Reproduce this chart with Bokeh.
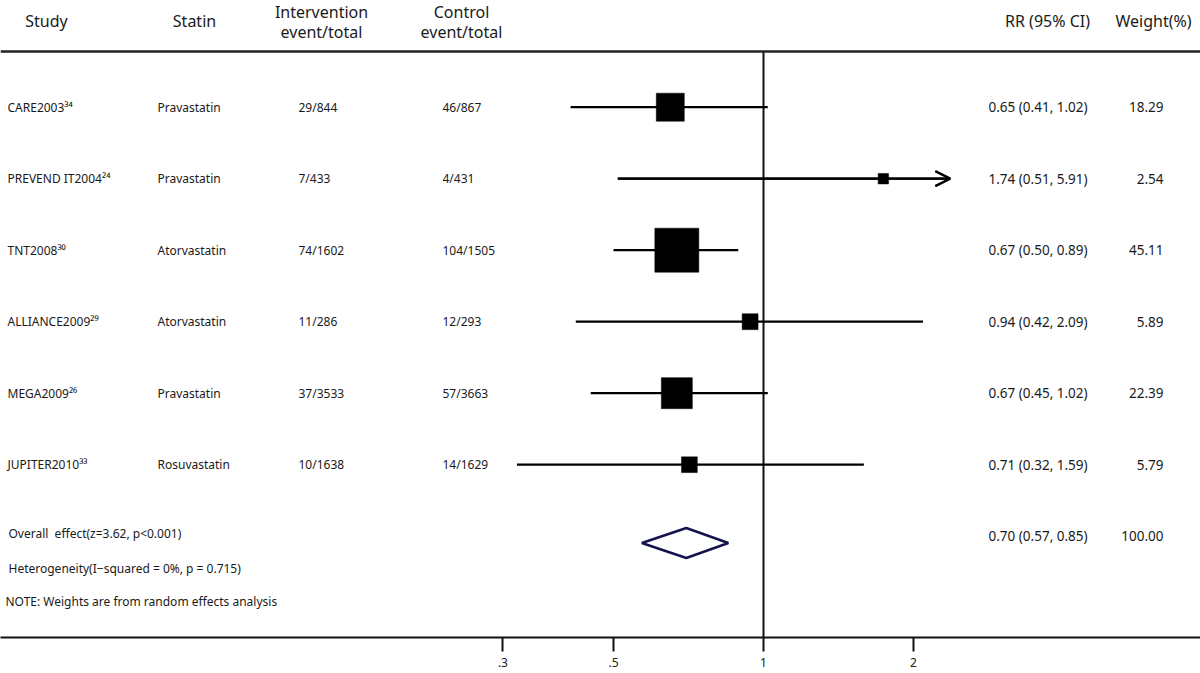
import math
from bokeh.plotting import figure
from bokeh.models import Range1d, FixedTicker, ColumnDataSource, Span, Arrow, OpenHead
from bokeh.core.properties import value
from bokeh.embed import file_html
from bokeh.resources import INLINE

# ---------------- data ----------------
studies = ["CARE2003", "PREVEND IT2004", "TNT2008", "ALLIANCE2009", "MEGA2009", "JUPITER2010"]
refs = ["34", "24", "30", "29", "26", "33"]
statins = ["Pravastatin", "Pravastatin", "Atorvastatin", "Atorvastatin", "Pravastatin", "Rosuvastatin"]
intervention = ["29/844", "7/433", "74/1602", "11/286", "37/3533", "10/1638"]
control = ["46/867", "4/431", "104/1505", "12/293", "57/3663", "14/1629"]
rr = [0.65, 1.74, 0.67, 0.94, 0.67, 0.71]
ci_low = [0.41, 0.51, 0.50, 0.42, 0.45, 0.32]
ci_high = [1.02, 5.91, 0.89, 2.09, 1.02, 1.59]
weights = [18.29, 2.54, 45.11, 5.89, 22.39, 5.79]
overall_rr, overall_low, overall_high = 0.70, 0.57, 0.85
overall_weight = 100.00
overall_text = "Overall\u00a0 effect(z=3.62, p<0.001)"
heterogeneity_text = "Heterogeneity(I\u2212squared = 0%, p = 0.715)"
note_text = "NOTE: Weights are from random effects analysis"
headers = ["Study", "Statin", "Intervention\nevent/total", "Control\nevent/total", "RR (95% CI)", "Weight(%)"]
tick_values = [0.3, 0.5, 1, 2]
tick_labels = [".3", ".5", "1", "2"]
x_clip = 2.37   # upper display limit of the plot scale

# ---------------- layout ----------------
W, H = 1200, 673
PAGE_OFF = 0
ONE_PX = 763.0        # page x of RR = 1
PX_PER_LN = 216.4
AXIS_Y = 637
HEADER_LINE_Y = 51
ROW0_Y = 106.7
ROW_STEP = 71.5
FONT = value("Noto Sans")

def px2x(px):
    return math.exp((px - ONE_PX) / PX_PER_LN)

n = len(studies)
row_y = [ROW0_Y + ROW_STEP * i for i in range(n)]
overall_y = ROW0_Y + ROW_STEP * n
diamond_y = overall_y + 6.8

p = figure(width=W, height=H, output_backend="svg", toolbar_location=None,
           x_axis_type="log",
           x_range=Range1d(px2x(PAGE_OFF), px2x(PAGE_OFF + W)),
           y_range=Range1d(AXIS_Y, PAGE_OFF),
           min_border_left=0, min_border_right=0, min_border_top=0,
           min_border_bottom=H - (AXIS_Y - PAGE_OFF))
p.background_fill_color = "white"
p.border_fill_color = "white"
p.outline_line_color = None
p.grid.visible = False
p.yaxis.visible = False

ax = p.xaxis[0]
ax.ticker = FixedTicker(ticks=tick_values, minor_ticks=[])
ax.major_label_overrides = dict(zip(tick_values, tick_labels))
ax.axis_line_width = 2
ax.axis_line_color = "#111111"
ax.major_tick_line_width = 2
ax.major_tick_line_color = "#111111"
ax.major_tick_in = 0
ax.major_tick_out = 14
ax.minor_tick_line_color = None
ax.major_label_standoff = 6
ax.major_label_text_font = "Noto Sans"
ax.major_label_text_font_size = "12px"
ax.major_label_text_color = "#222222"

# header line and reference line at RR = 1
p.add_layout(Span(location=HEADER_LINE_Y, dimension="width", line_width=2.5, line_color="#222222"))
p.segment(x0=[1], x1=[1], y0=[HEADER_LINE_Y], y1=[AXIS_Y], line_width=2, line_color="#111111")

# confidence intervals
src = ColumnDataSource(dict(
    y=row_y, rr=rr, lo=ci_low, hi=[min(h, x_clip) for h in ci_high],
    size=[44 * math.sqrt(w / max(weights)) for w in weights]))
p.segment(x0="lo", x1="hi", y0="y", y1="y", source=src, line_width=2.2, line_color="black")
for lo_, hi_, y_ in zip(ci_low, ci_high, row_y):
    if hi_ > x_clip:
        p.add_layout(Arrow(end=OpenHead(size=15, line_width=2.5, line_color="black"),
                           x_start=lo_, y_start=y_, x_end=x_clip, y_end=y_,
                           line_width=2.2, line_color="black"))
p.scatter(x="rr", y="y", size="size", marker="square", source=src,
          fill_color="black", line_color="black", line_width=0.5)

# overall diamond
p.patch(x=[overall_low, overall_rr, overall_high, overall_rr, overall_low],
        y=[diamond_y, diamond_y - 15, diamond_y, diamond_y + 15, diamond_y],
        fill_color="white", line_color="#14144d", line_width=2.5)

# ---------------- texts ----------------
sup = str.maketrans("0123456789", "\u2070\u00b9\u00b2\u00b3\u2074\u2075\u2076\u2077\u2078\u2079")
labels = [s + r.translate(sup) for s, r in zip(studies, refs)]
rr_text = ["%.2f (%.2f, %.2f)" % t for t in zip(rr, ci_low, ci_high)]
w_text = ["%.2f" % w for w in weights]

def col(xpx, texts, ys, align="left", size="12px"):
    p.text(x=[px2x(xpx)] * len(texts), y=ys, text=texts, text_font=FONT,
           text_font_size=size, text_align=align, text_baseline="middle", text_color="#1a1a1a")

col(7, labels, row_y)
col(157, statins, row_y)
col(298, intervention, row_y)
col(442, control, row_y)
col(988, rr_text + ["%.2f (%.2f, %.2f)" % (overall_rr, overall_low, overall_high)],
    row_y + [overall_y], size="13.5px")
col(1163, w_text + ["%.2f" % overall_weight], row_y + [overall_y], align="right", size="13.5px")
col(8, [overall_text], [overall_y - 3])
col(8, [heterogeneity_text], [overall_y + 32])
col(5, [note_text], [overall_y + 65])

# headers
hx = [46, 194, 321, 461, 1047, 1153]
for x_, t in zip(hx, headers):
    lines = t.split("\n")
    if len(lines) == 1:
        ys = [20]
    else:
        ys = [11, 31]
    col(x_, lines, ys, align="center", size="16px")

open("out.html", "w").write(file_html(p, INLINE))
